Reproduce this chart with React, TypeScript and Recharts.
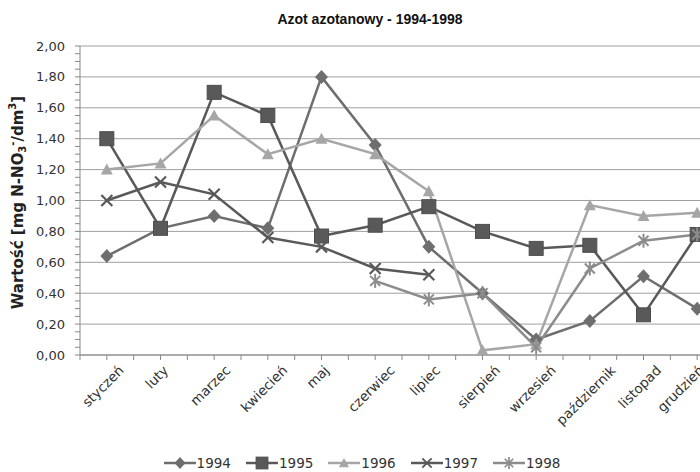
import React from 'react';
import { LineChart, Line, XAxis, YAxis, CartesianGrid, Legend } from 'recharts';

const months = ['styczeń', 'luty', 'marzec', 'kwiecień', 'maj', 'czerwiec', 'lipiec', 'sierpień', 'wrzesień', 'październik', 'listopad', 'grudzień'];
const v1994 = [0.64, 0.82, 0.90, 0.82, 1.80, 1.36, 0.70, 0.40, 0.10, 0.22, 0.51, 0.30];
const v1995 = [1.40, 0.82, 1.70, 1.55, 0.77, 0.84, 0.96, 0.80, 0.69, 0.71, 0.26, 0.78];
const v1996 = [1.20, 1.24, 1.55, 1.30, 1.40, 1.30, 1.06, 0.03, 0.07, 0.97, 0.90, 0.92];
const v1997 = [1.00, 1.12, 1.04, 0.76, 0.70, 0.56, 0.52, null, null, null, null, null];
const v1998 = [null, null, null, null, null, 0.48, 0.36, 0.40, 0.05, 0.56, 0.74, 0.78];
const yMajorTicks = [0, 0.2, 0.4, 0.6, 0.8, 1.0, 1.2, 1.4, 1.6, 1.8, 2.0];
const yAllTicks = Array.from({ length: 41 }, (_, i) => i / 20);

const data = months.map((m, i) => ({
  month: m,
  y1994: v1994[i],
  y1995: v1995[i],
  y1996: v1996[i],
  y1997: v1997[i],
  y1998: v1998[i],
}));

const C1994 = '#6e6e6e';
const C1995 = '#595959';
const C1996 = '#a6a6a6';
const C1997 = '#595959';
const C1998 = '#8c8c8c';
const AXIS = '#888';

const FONT = '"DejaVu Sans", sans-serif';
const XFS = 13.5;
const LABEL_RIGHT_LIMIT = 706;

// approximate DejaVu Sans advance widths (em) for label-length estimate
const CW: Record<string, number> = {
  a: 0.613, c: 0.55, d: 0.635, e: 0.615, g: 0.635, i: 0.278, j: 0.278, k: 0.579, l: 0.278, m: 0.974,
  n: 0.634, o: 0.612, p: 0.635, r: 0.411, s: 0.521, t: 0.392, u: 0.634, w: 0.818, y: 0.592, z: 0.525,
  'ń': 0.634, 'ź': 0.525,
};
const textLen = (s: string, fs: number) => s.split('').reduce((acc, ch) => acc + (CW[ch] ?? 0.6), 0) * fs;

type Shape = 'diamond' | 'square' | 'triangle' | 'x' | 'star';

function Marker({ shape, cx, cy, color }: { shape: Shape; cx: number; cy: number; color: string }) {
  if (shape === 'diamond') {
    return <polygon points={`${cx},${cy - 7} ${cx + 6.5},${cy} ${cx},${cy + 7} ${cx - 6.5},${cy}`} fill={color} />;
  }
  if (shape === 'square') {
    return <rect x={cx - 7} y={cy - 7} width={14} height={14} fill={color} stroke="#4d4d4d" strokeWidth={1} />;
  }
  if (shape === 'triangle') {
    return <polygon points={`${cx},${cy - 6} ${cx + 6},${cy + 5} ${cx - 6},${cy + 5}`} fill={color} />;
  }
  if (shape === 'x') {
    return (
      <g stroke={color} strokeWidth={2.2}>
        <line x1={cx - 5.5} y1={cy - 5.5} x2={cx + 5.5} y2={cy + 5.5} />
        <line x1={cx - 5.5} y1={cy + 5.5} x2={cx + 5.5} y2={cy - 5.5} />
      </g>
    );
  }
  return (
    <g stroke={color} strokeWidth={2}>
      <line x1={cx - 5} y1={cy - 5} x2={cx + 5} y2={cy + 5} />
      <line x1={cx - 5} y1={cy + 5} x2={cx + 5} y2={cy - 5} />
      <line x1={cx} y1={cy - 7} x2={cx} y2={cy + 7} />
    </g>
  );
}

const makeDot = (shape: Shape, color: string) => (props: any) => {
  const { cx, cy, value, index } = props;
  if (value === null || value === undefined || cx == null || cy == null) return <g key={`e-${shape}-${index}`} />;
  return (
    <g key={`d-${shape}-${index}`}>
      <Marker shape={shape} cx={cx} cy={cy} color={color} />
    </g>
  );
};

const XTick = (props: any) => {
  const { x, y, payload, width, visibleTicksCount, index } = props;
  const n = visibleTicksCount || months.length;
  const band = (width || 0) / n;
  const label = String(payload.value);
  const L = textLen(label, XFS);
  const h = XFS * 1.0;
  const halfExtent = ((L + h) / 2) * 0.7071;
  // centre of rotated label, kept inside the chart area on the right
  const cxT = Math.min(x - 4, LABEL_RIGHT_LIMIT - halfExtent);
  const cyT = y + 8 + halfExtent;
  return (
    <g>
      <line x1={x} y1={y} x2={x} y2={y + 5} stroke={AXIS} />
      <line x1={x - band / 2} y1={y} x2={x - band / 2} y2={y + 5} stroke={AXIS} />
      {index === n - 1 && <line x1={x + band / 2} y1={y} x2={x + band / 2} y2={y + 5} stroke={AXIS} />}
      <text
        x={cxT}
        y={cyT}
        transform={`rotate(-45, ${cxT}, ${cyT})`}
        textAnchor="middle"
        dominantBaseline="central"
        fontFamily={FONT}
        fontSize={XFS}
        fill="#333"
      >
        {label}
      </text>
    </g>
  );
};

const YTick = (props: any) => {
  const { x, y, payload } = props;
  const v = payload.value as number;
  const isMajor = yMajorTicks.some((t) => Math.abs(t - v) < 1e-6);
  if (!isMajor) return <g />;
  return (
    <text x={x} y={y} dy={4.5} textAnchor="end" fontFamily={FONT} fontSize={13} fill="#333">
      {v.toFixed(2).replace('.', ',')}
    </text>
  );
};

const YLabel = (props: any) => {
  const vb = props.viewBox || {};
  const cx = (vb.x ?? 0) + 18;
  const cy = (vb.y ?? 0) + (vb.height ?? 0) / 2 + 2;
  return (
    <text
      x={cx}
      y={cy}
      transform={`rotate(-90, ${cx}, ${cy})`}
      textAnchor="middle"
      dominantBaseline="central"
      fontFamily={FONT}
      fontWeight="bold"
      fontSize={15}
      fill="#222"
    >
      Wartość [mg N-NO
      <tspan fontSize={10} dy={4}>3</tspan>
      <tspan fontSize={10} dy={-10}>-</tspan>
      <tspan dy={6}>/dm</tspan>
      <tspan fontSize={10} dy={-6}>3</tspan>
      <tspan dy={6}>]</tspan>
    </text>
  );
};

const legendItems: { name: string; shape: Shape; color: string }[] = [
  { name: '1994', shape: 'diamond', color: C1994 },
  { name: '1995', shape: 'square', color: C1995 },
  { name: '1996', shape: 'triangle', color: C1996 },
  { name: '1997', shape: 'x', color: C1997 },
  { name: '1998', shape: 'star', color: C1998 },
];

const LegendContent = () => (
  <div style={{ display: 'flex', justifyContent: 'center', height: 18, alignItems: 'center', gap: 15 }}>
    {legendItems.map((it) => (
      <div key={it.name} style={{ display: 'flex', alignItems: 'center' }}>
        <svg width={32} height={16}>
          <line x1={0} y1={8} x2={32} y2={8} stroke={it.color} strokeWidth={2.5} />
          <g transform="translate(16,8) scale(0.85) translate(-16,-8)">
            <Marker shape={it.shape} cx={16} cy={8} color={it.color} />
          </g>
        </svg>
        <span style={{ fontFamily: FONT, fontSize: 13.5, color: '#333', marginLeft: 1 }}>{it.name}</span>
      </div>
    ))}
  </div>
);

export default function App() {
  return (
    <div style={{ position: 'absolute', left: 0, top: 0, width: 700, height: 472, overflow: 'hidden', background: '#fff' }}>
      <div
        style={{
          position: 'absolute',
          left: 0,
          top: 11,
          width: 740,
          textAlign: 'center',
          fontFamily: '"Liberation Sans", Arial, sans-serif',
          fontWeight: 'bold',
          fontSize: 14,
          color: '#111',
          zIndex: 2,
        }}
      >
        Azot azotanowy - 1994-1998
      </div>
      <LineChart width={740} height={472} data={data} margin={{ top: 46, right: 16, left: 0, bottom: 0 }}>
        <CartesianGrid vertical={false} stroke="#a0a0a0" strokeWidth={1} horizontalValues={yMajorTicks} />
        <XAxis
          dataKey="month"
          scale="band"
          interval={0}
          height={99}
          tickLine={false}
          tickSize={0}
          tickMargin={0}
          axisLine={{ stroke: AXIS }}
          tick={<XTick />}
        />
        <YAxis
          domain={[0, 2]}
          ticks={yAllTicks}
          interval={0}
          tick={<YTick />}
          tickSize={5}
          tickMargin={10}
          tickLine={{ stroke: AXIS }}
          axisLine={{ stroke: AXIS }}
          width={80}
          label={{ content: <YLabel /> }}
        />
        <Line dataKey="y1994" stroke={C1994} strokeWidth={2.5} dot={makeDot('diamond', C1994)} isAnimationActive={false} />
        <Line dataKey="y1995" stroke={C1995} strokeWidth={2.5} dot={makeDot('square', C1995)} isAnimationActive={false} />
        <Line dataKey="y1996" stroke={C1996} strokeWidth={2.5} dot={makeDot('triangle', C1996)} isAnimationActive={false} />
        <Line dataKey="y1997" stroke={C1997} strokeWidth={2.5} dot={makeDot('x', C1997)} isAnimationActive={false} />
        <Line dataKey="y1998" stroke={C1998} strokeWidth={2.5} dot={makeDot('star', C1998)} isAnimationActive={false} />
        <Legend verticalAlign="bottom" content={<LegendContent />} />
      </LineChart>
    </div>
  );
}
